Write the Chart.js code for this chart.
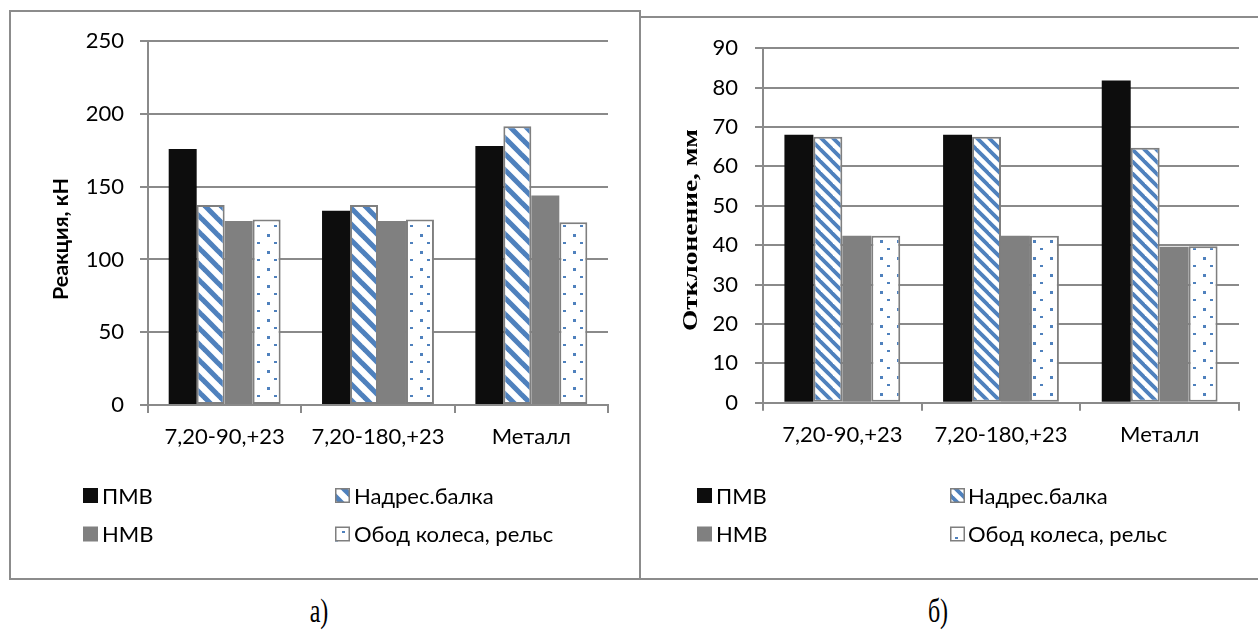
<!DOCTYPE html>
<html>
<head>
<meta charset="utf-8">
<script src="https://cdn.jsdelivr.net/npm/chart.js@4.4.1/dist/chart.umd.min.js"></script>
<style>
  html, body { margin: 0; padding: 0; background: #ffffff; }
  body { width: 1258px; height: 639px; overflow: hidden; position: relative; }
  .frame { position: absolute; border: 2px solid #8c8c8c; box-sizing: border-box; }
  canvas { position: absolute; }
  .cap { position: absolute; font-family: "Liberation Serif", serif; font-size: 24px; color: #000;
         transform: translate(-50%, -50%) scaleY(1.4); line-height: 1; }
</style>
</head>
<body>
<div class="frame" style="left:9px;top:10px;width:632px;height:570px"></div>
<div class="frame" style="left:639px;top:16px;width:640px;height:564px"></div>
<canvas id="reaction" width="627" height="566" style="left:11px;top:12px"></canvas>
<canvas id="deflection" width="617" height="560" style="left:641px;top:18px"></canvas>
<div class="cap" style="left:319px;top:611px">а)</div>
<div class="cap" style="left:938px;top:611px">б)</div>

<script>
// Categories and series
const categories = ['7,20-90,+23', '7,20-180,+23', 'Металл'];
const seriesNames = ['ПМВ', 'Надрес.балка', 'НМВ', 'Обод колеса, рельс'];

// Reaction, kN
const reactionPMV  = [176, 133.5, 178];
const reactionBeam = [137.5, 137.5, 191.5];
const reactionNMV  = [126.5, 126.5, 144];
const reactionRim  = [127.5, 127.5, 125.5];
const reactionTicks = [0, 50, 100, 150, 200, 250];

// Deflection, mm
const deflPMV  = [68, 68, 81.8];
const deflBeam = [67.5, 67.5, 64.7];
const deflNMV  = [42.4, 42.4, 39.6];
const deflRim  = [42.4, 42.4, 39.7];
const deflTicks = [0, 10, 20, 30, 40, 50, 60, 70, 80, 90];

const BLUE = '#4f81bd';
const GRID = '#8a8a8a';
const EDGE = '#7f7f7f';

// Diagonal ("\") blue stripes on white
function stripePattern(size) {
  const c = document.createElement('canvas');
  c.width = size; c.height = size;
  const g = c.getContext('2d');
  g.fillStyle = '#ffffff';
  g.fillRect(0, 0, size, size);
  g.strokeStyle = BLUE;
  g.lineWidth = size * 0.45 * 0.7071;
  g.lineCap = 'square';
  for (let k = -1; k <= 1; k++) {
    g.beginPath();
    g.moveTo(k * size - 2, -2);
    g.lineTo(k * size + size + 2, size + 2);
    g.stroke();
  }
  return g.createPattern(c, 'repeat');
}

// Small blue dots on white
function dotPattern(size) {
  const c = document.createElement('canvas');
  c.width = size; c.height = size;
  const g = c.getContext('2d');
  g.fillStyle = '#ffffff';
  g.fillRect(0, 0, size, size);
  g.fillStyle = BLUE;
  g.fillRect(1, 1, 3, 3);
  g.fillRect(Math.round(size / 2) - 1, Math.round(size / 2), 3, 2);
  return g.createPattern(c, 'repeat');
}

function makeDatasets(values, hatchSize) {
  const base = { categoryPercentage: 0.73, barPercentage: 1.0 };
  return [
    Object.assign({ label: seriesNames[0], data: values[0], backgroundColor: '#0d0d0d', borderWidth: 0 }, base),
    Object.assign({ label: seriesNames[1], data: values[1], backgroundColor: stripePattern(hatchSize),
                    borderColor: EDGE, borderWidth: 2, borderSkipped: false }, base),
    Object.assign({ label: seriesNames[2], data: values[2], backgroundColor: '#808080', borderWidth: 0 }, base),
    Object.assign({ label: seriesNames[3], data: values[3], backgroundColor: dotPattern(17),
                    borderColor: EDGE, borderWidth: 2, borderSkipped: false }, base)
  ];
}

// Two-column legend below the plot
function gridLegend(pos) {
  return {
    id: 'gridLegend',
    afterDraw(chart) {
      const ctx = chart.ctx;
      ctx.save();
      ctx.font = '22px Lato';
      ctx.textBaseline = 'middle';
      ctx.textAlign = 'left';
      chart.data.datasets.forEach((ds, i) => {
        const col = i % 2, row = Math.floor(i / 2);
        const sx = pos.square[col], tx = pos.text[col], cy = pos.rows[row];
        const s = 15;
        ctx.fillStyle = ds.backgroundColor;
        ctx.fillRect(sx, cy - s / 2, s, s);
        if (ds.borderWidth) {
          ctx.strokeStyle = EDGE;
          ctx.lineWidth = 1.5;
          ctx.strokeRect(sx + 0.75, cy - s / 2 + 0.75, s - 1.5, s - 1.5);
        }
        ctx.fillStyle = '#000000';
        ctx.fillText(ds.label, tx, cy + 1);
      });
      ctx.restore();
    }
  };
}

// Rotated value-axis title, stretched along its length to a set span
function axisTitle(t) {
  return {
    id: 'axisTitle',
    afterDraw(chart) {
      const ctx = chart.ctx;
      ctx.save();
      ctx.font = t.font;
      ctx.fillStyle = '#000000';
      ctx.textAlign = 'center';
      ctx.textBaseline = 'middle';
      const w = ctx.measureText(t.text).width;
      ctx.translate(t.x, t.y);
      ctx.rotate(-Math.PI / 2);
      ctx.scale(t.length / w, 1);
      ctx.fillText(t.text, 0, 0);
      ctx.restore();
    }
  };
}

function makeChart(id, cfg) {
  return new Chart(document.getElementById(id), {
    type: 'bar',
    data: { labels: categories, datasets: makeDatasets(cfg.values, cfg.hatch) },
    options: {
      responsive: false,
      animation: false,
      events: [],
      layout: { padding: { left: 0, right: cfg.padRight, top: cfg.padTop, bottom: 0 } },
      plugins: { legend: { display: false }, tooltip: { enabled: false } },
      scales: {
        x: {
          grid: { drawOnChartArea: false, drawTicks: true, tickLength: 8, color: GRID, lineWidth: 2, offset: true },
          border: { display: true, color: GRID, width: 2 },
          ticks: { color: '#000', font: { family: 'Lato', size: 22 }, padding: 11, maxRotation: 0 },
          afterFit(scale) { scale.height = cfg.xHeight; }
        },
        y: {
          min: 0,
          max: cfg.ticks[cfg.ticks.length - 1],
          afterBuildTicks(scale) { scale.ticks = cfg.ticks.map(v => ({ value: v })); },
          grid: { color: GRID, lineWidth: 2, tickLength: 8, drawTicks: true },
          border: { display: true, color: GRID, width: 2 },
          ticks: { color: '#000', font: { family: 'Lato', size: 22 }, padding: cfg.tickPad },
          afterFit(scale) { scale.width = cfg.yWidth; }
        }
      }
    },
    plugins: [gridLegend(cfg.legend), axisTitle(cfg.title)]
  });
}

makeChart('reaction', {
  values: [reactionPMV, reactionBeam, reactionNMV, reactionRim],
  hatch: 16,
  ticks: reactionTicks,
  title: { text: 'Реакция, кН', font: 'bold 20px Lato', x: 51, y: 227, length: 122 },
  tickPad: 16,
  yWidth: 137,
  xHeight: 173,
  padTop: 28,
  padRight: 30,
  legend: { square: [72, 324], text: [91, 343], rows: [483.5, 522] }
});

makeChart('deflection', {
  values: [deflPMV, deflBeam, deflNMV, deflRim],
  hatch: 12,
  ticks: deflTicks,
  title: { text: 'Отклонение, мм', font: 'bold 22px "Liberation Serif"', x: 50, y: 212, length: 202 },
  tickPad: 17,
  yWidth: 122,
  xHeight: 175.3,
  padTop: 27.5,
  padRight: 19,
  legend: { square: [56, 309], text: [75, 327], rows: [477.5, 516] }
});
</script>
</body>
</html>
